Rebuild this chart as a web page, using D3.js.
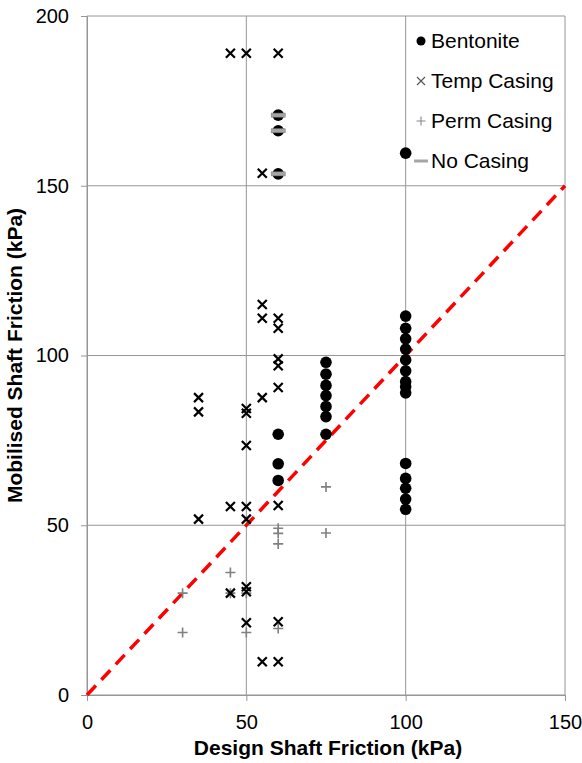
<!DOCTYPE html>
<html>
<head>
<meta charset="utf-8">
<script src="https://cdn.jsdelivr.net/npm/d3@7"></script>
<style>
  body { margin: 0; background: #fff; }
  svg text { font-family: "Liberation Sans", Arial, sans-serif; fill: #000; }
</style>
</head>
<body>
<svg id="chart"></svg>
<script>
// data: [design, mobilised] in kPa
const bentonite = [
  [60, 76.8], [60, 68.1], [60, 63.2],
  [75, 98], [75, 94.5], [75, 91.2], [75, 88.2], [75, 85], [75, 82], [75, 76.8],
  [100, 111.6], [100, 108], [100, 104.9], [100, 101.9], [100, 98.7], [100, 95.5],
  [100, 92.3], [100, 90.8], [100, 89], [100, 68.2], [100, 63.8], [100, 60.9],
  [100, 57.7], [100, 54.7], [100, 159.6],
  [60, 170.8], [60, 166.2], [60, 153.5]
];
const tempCasing = [
  [45, 189], [50, 189], [60, 189], [55, 153.7], [55, 115], [55, 111], [60, 111],
  [60, 108], [60, 99], [60, 97], [60, 90.6], [55, 87.6], [35, 87.6], [35, 83.4],
  [50, 84.4], [50, 83], [50, 73.5], [45, 55.5], [50, 55.5], [60, 55.8], [35, 51.8],
  [50, 51.8], [45, 30], [50, 31.9], [50, 30.4], [50, 21.3], [60, 21.6], [55, 9.8], [60, 9.8]
];
const permCasing = [
  [60, 49.1], [60, 47.6], [60, 44.5], [45, 36.1], [30, 30], [45, 30], [50, 30],
  [60, 19.6], [30, 18.4], [50, 18.4], [75, 61.3], [75, 47.7]
];
const noCasing = [[60, 170.8], [60, 166.2], [60, 153.5]];
const oneToOne = [[0, 0], [150, 150]];
const xTicks = [0, 50, 100, 150];
const yTicks = [0, 50, 100, 150, 200];
const legendNames = ["Bentonite", "Temp Casing", "Perm Casing", "No Casing"];

const [W, H] = [582, 763];
const m = {top: 16, right: 17, bottom: 68, left: 87};

const svg = d3.select("#chart").attr("width", W).attr("height", H);

const x = d3.scaleLinear().domain([0, 150]).range([m.left, W - m.right]);
const y = d3.scaleLinear().domain([0, 200]).range([H - m.bottom, m.top]);

// gridlines
svg.append("g").selectAll("line").data(yTicks).join("line")
  .attr("x1", m.left).attr("x2", W - m.right)
  .attr("y1", d => y(d)).attr("y2", d => y(d))
  .attr("stroke", "#969696").attr("stroke-width", 1);
svg.append("g").selectAll("line").data(xTicks).join("line")
  .attr("y1", m.top).attr("y2", H - m.bottom)
  .attr("x1", d => x(d)).attr("x2", d => x(d))
  .attr("stroke", "#969696").attr("stroke-width", 1);

// axes
const xAxis = svg.append("g").attr("transform", `translate(0,${H - m.bottom})`)
  .call(d3.axisBottom(x).tickValues(xTicks).tickSize(6).tickPadding(14));
const yAxis = svg.append("g").attr("transform", `translate(${m.left},0)`)
  .call(d3.axisLeft(y).tickValues(yTicks).tickSize(6).tickPadding(12));
[xAxis, yAxis].forEach(g => {
  g.selectAll("path, line").attr("stroke", "#969696");
  g.selectAll("text").style("font-size", "20px").attr("fill", "#000");
});

// 1:1 line
svg.append("path").datum(oneToOne)
  .attr("d", d3.line().x(d => x(d[0])).y(d => y(d[1])))
  .attr("stroke", "#ff0000").attr("stroke-width", 3.5)
  .attr("stroke-dasharray", "13,8").attr("fill", "none");

// markers
const crossPath = s => `M${-s},${-s}L${s},${s}M${-s},${s}L${s},${-s}`;
const plusPath = s => `M${-s},0L${s},0M0,${-s}L0,${s}`;

svg.append("g").selectAll("path").data(permCasing).join("path")
  .attr("transform", d => `translate(${x(d[0])},${y(d[1])})`)
  .attr("d", plusPath(5)).attr("stroke", "#808080").attr("stroke-width", 1.6);

svg.append("g").selectAll("path").data(tempCasing).join("path")
  .attr("transform", d => `translate(${x(d[0])},${y(d[1])})`)
  .attr("d", crossPath(4.5)).attr("stroke", "#000").attr("stroke-width", 2.2);

svg.append("g").selectAll("circle").data(bentonite).join("circle")
  .attr("cx", d => x(d[0])).attr("cy", d => y(d[1])).attr("r", 5.8)
  .attr("fill", "#000");

svg.append("g").selectAll("rect").data(noCasing).join("rect")
  .attr("x", d => x(d[0]) - 7).attr("y", d => y(d[1]) - 2)
  .attr("width", 14).attr("height", 4)
  .attr("fill", "#a6a6a6").attr("stroke", "#7f7f7f").attr("stroke-width", 0.6);

// legend
const legend = svg.append("g");
const rowY = i => 41 + i * 40;
legendNames.forEach((name, i) => {
  const cx = 421, cy = rowY(i);
  if (i === 0) legend.append("circle").attr("cx", cx).attr("cy", cy).attr("r", 4.5).attr("fill", "#000");
  if (i === 1) legend.append("path").attr("transform", `translate(${cx},${cy})`)
    .attr("d", crossPath(4)).attr("stroke", "#555").attr("stroke-width", 1.1);
  if (i === 2) legend.append("path").attr("transform", `translate(${cx},${cy})`)
    .attr("d", plusPath(4.5)).attr("stroke", "#888").attr("stroke-width", 1.1);
  if (i === 3) legend.append("rect").attr("x", cx - 7).attr("y", cy - 1.5)
    .attr("width", 14).attr("height", 3).attr("fill", "#a6a6a6");
  legend.append("text").attr("x", 431).attr("y", cy).attr("dy", "0.35em")
    .style("font-size", "21px").text(name);
});

// axis titles
svg.append("text").attr("x", (m.left + W - m.right) / 2 + 2).attr("y", 755)
  .attr("text-anchor", "middle").style("font-size", "21px").style("font-weight", "bold")
  .text("Design Shaft Friction (kPa)");
svg.append("text").attr("transform", `translate(22,${(m.top + H - m.bottom) / 2}) rotate(-90)`)
  .attr("text-anchor", "middle").style("font-size", "21px").style("font-weight", "bold")
  .text("Mobilised Shaft Friction (kPa)");
</script>
</body>
</html>
